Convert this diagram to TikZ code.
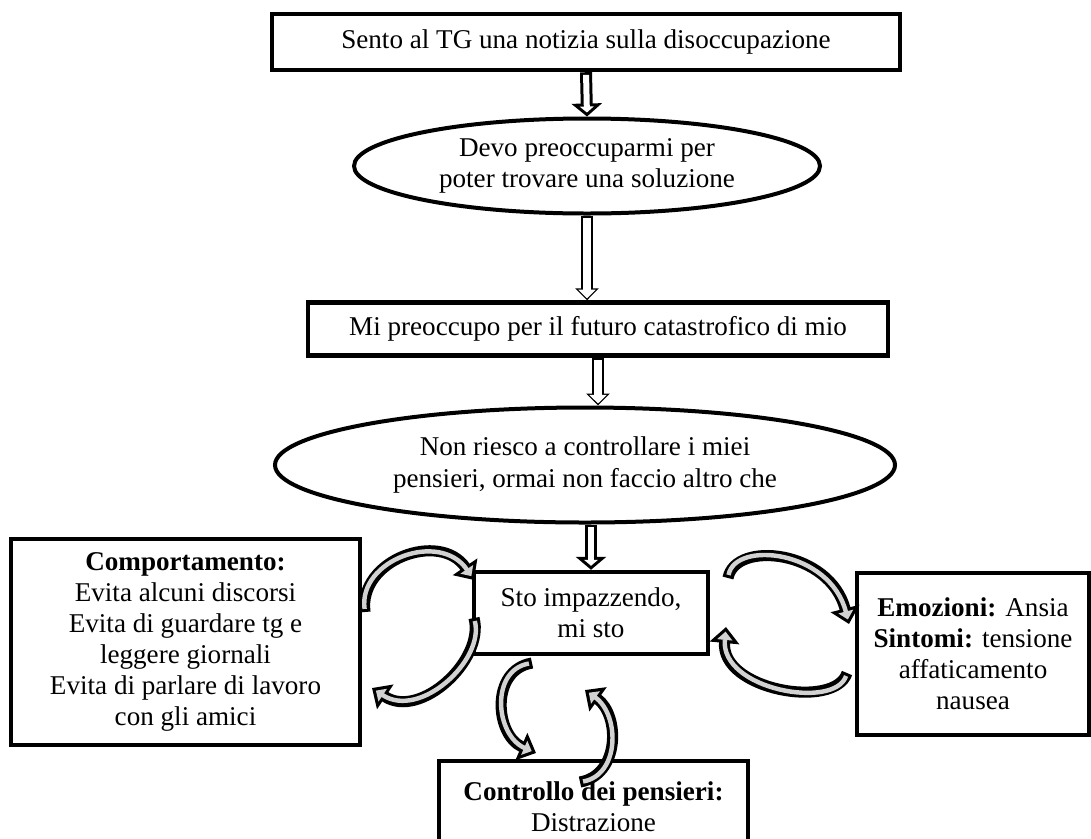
\documentclass[tikz,border=0pt]{standalone}
\usepackage{fontspec}
\setmainfont{Liberation Serif}
\usetikzlibrary{shapes.geometric,arrows.meta}

\tikzset{
  txt/.style={align=center, inner sep=0pt, font=\fontsize{12.2}{14}\selectfont},
  box/.style={txt, draw, rectangle, line width=2pt},
  oval/.style={txt, draw, ellipse, line width=1.8pt},
  % block arrows: black body, then a lighter inside on top
  fatarrow/.style={draw, line width=5.4pt, -{Triangle[length=5.85pt,width=13.5pt]},
    postaction={draw=white, line width=2.7pt, shorten <=1.2pt, shorten >=1.8pt,
      -{Triangle[length=2.7pt,width=6.2pt]}}},
  thinarrow/.style={draw, line width=5pt, -{Triangle[length=5.4pt,width=10.4pt]},
    postaction={draw=white, line width=3.8pt, shorten <=1.1pt, shorten >=0.9pt,
      -{Triangle[length=3.9pt,width=7.6pt]}}},
  cycarrow/.style={draw, line width=5pt, -{Triangle[length=7.2pt,width=13pt]},
    postaction={draw=gray!35, line width=2pt, shorten <=1.4pt, shorten >=2.1pt,
      -{Triangle[length=3.7pt,width=6.7pt]}}}
}

\begin{document}
\begin{tikzpicture}[x=0.45pt, y=-0.45pt]
\useasboundingbox (0,0) rectangle (1091,838);
\clip (0,0) rectangle (1091,838);

\node[box, minimum width=282.6pt, minimum height=25.2pt] (news) at (586,42)
  {Sento al TG una notizia sulla disoccupazione};
\node[oval, minimum width=209.7pt, minimum height=42.75pt] (dovere) at (587,166)
  {Devo preoccuparmi per\\poter trovare una soluzione};
\node[box, minimum width=261pt, minimum height=23.85pt] (preoc) at (598,329)
  {Mi preoccupo per il futuro catastrofico di mio};
\node[oval, minimum width=279pt, minimum height=51.75pt] (pensieri) at (585,465)
  {Non riesco a controllare i miei\\pensieri, ormai non faccio altro che};
\node[box, minimum width=105.3pt, minimum height=36.9pt] (impazz) at (591,613)
  {Sto impazzendo,\\mi sto};
\node[box, minimum width=157pt, minimum height=92.7pt] (comport) at (185.5,642)
  {\textbf{Comportamento:}\\Evita alcuni discorsi\\Evita di guardare tg e\\leggere giornali\\Evita di parlare di lavoro\\con gli amici};
\node[box, minimum width=104.4pt, minimum height=72.9pt] (emoz) at (973,654)
  {\textbf{Emozioni:} Ansia\\\textbf{Sintomi:} tensione\\affaticamento\\nausea};
\node[box, minimum width=139pt, minimum height=41.4pt] (controllo) at (593.5,807)
  {\textbf{Controllo dei pensieri:}\\Distrazione};

% main chain
\draw[fatarrow] (news.south) -- (dovere.north);
\draw[thinarrow] (dovere.south) -- (dovere.south |- preoc.north);
\draw[thinarrow] (preoc.south) -- (preoc.south |- pensieri.north);
\draw[fatarrow] (impazz.north |- pensieri.south) -- (impazz.north);

% loops round the centre box
\coordinate (cl1) at (365,612);
\coordinate (cl2) at (474,580);
\coordinate (cl3) at (474,618);
\coordinate (cl4) at (372,688);
\coordinate (cr1) at (728,578);
\coordinate (cr2) at (849,624);
\coordinate (cr3) at (847,673);
\coordinate (cr4) at (726,627);
\coordinate (cb1) at (532,663);
\coordinate (cb2) at (536,753);
\coordinate (cb3) at (580,782);
\coordinate (cb4) at (585,690);

\draw[cycarrow] (cl1) .. controls (358,560) and (440,530) .. (cl2);
\draw[cycarrow] (cl3) .. controls (485,660) and (420,720) .. (cl4);
\draw[cycarrow] (cr1) .. controls (735,540) and (830,550) .. (cr2);
\draw[cycarrow] (cr3) .. controls (835,710) and (720,690) .. (cr4);
\draw[cycarrow] (cb1) .. controls (490,670) and (495,735) .. (cb2);
\draw[cycarrow] (cb3) .. controls (620,775) and (620,715) .. (cb4);
\end{tikzpicture}
\end{document}
